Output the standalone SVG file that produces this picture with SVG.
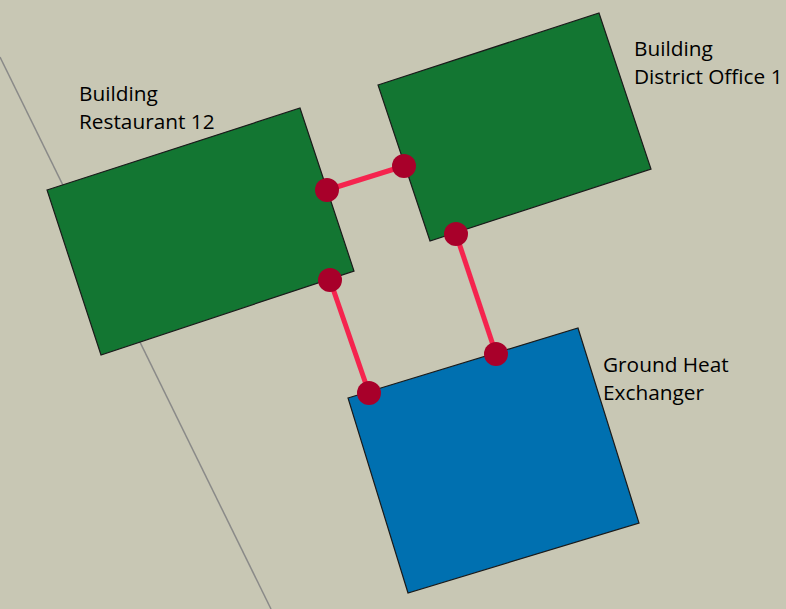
<svg xmlns="http://www.w3.org/2000/svg" width="786" height="609" viewBox="0 0 786 609">
<style>
.bldg{fill:#137632;stroke:#1a1a1a;stroke-width:1.2;stroke-linejoin:miter}
.ghe{fill:#0070b0;stroke:#1a1a1a;stroke-width:1.2}
.lbl{font-family:"Open Sans","Liberation Sans",sans-serif;font-size:20.8px;fill:#000}
.pipe{stroke:#f5244e;stroke-width:5;fill:none}
.port{fill:#a8002a}
</style>
<rect width="786" height="609" fill="#c8c7b4"/>
<line x1="0" y1="57" x2="271" y2="609" stroke="#8a8a88" stroke-width="1.5"/>
<g id="restaurant">
<polygon class="bldg" points="47,190 300,108 354,271 101,355"/>
<text class="lbl" x="79" y="101">Building</text>
<text class="lbl" x="79" y="129">Restaurant 12</text>
</g>
<g id="office">
<polygon class="bldg" points="378,85 599,13 651,169 430,241"/>
<text class="lbl" x="634" y="56">Building</text>
<text class="lbl" x="634" y="84">District Office 1</text>
</g>
<g id="ghe">
<polygon class="ghe" points="348,398 578,328 639,523 408,593"/>
<text class="lbl" x="603" y="372">Ground Heat</text>
<text class="lbl" x="603" y="400">Exchanger</text>
</g>
<g id="connectors">
<line class="pipe" x1="327" y1="190" x2="404" y2="166"/>
<line class="pipe" x1="330" y1="280" x2="369" y2="393"/>
<line class="pipe" x1="456" y1="234" x2="496" y2="354"/>
<circle class="port" cx="327" cy="190" r="12"/>
<circle class="port" cx="404" cy="166" r="12"/>
<circle class="port" cx="330" cy="280" r="12"/>
<circle class="port" cx="369" cy="393" r="12"/>
<circle class="port" cx="456" cy="234" r="12"/>
<circle class="port" cx="496" cy="354" r="12"/>
</g>
</svg>
